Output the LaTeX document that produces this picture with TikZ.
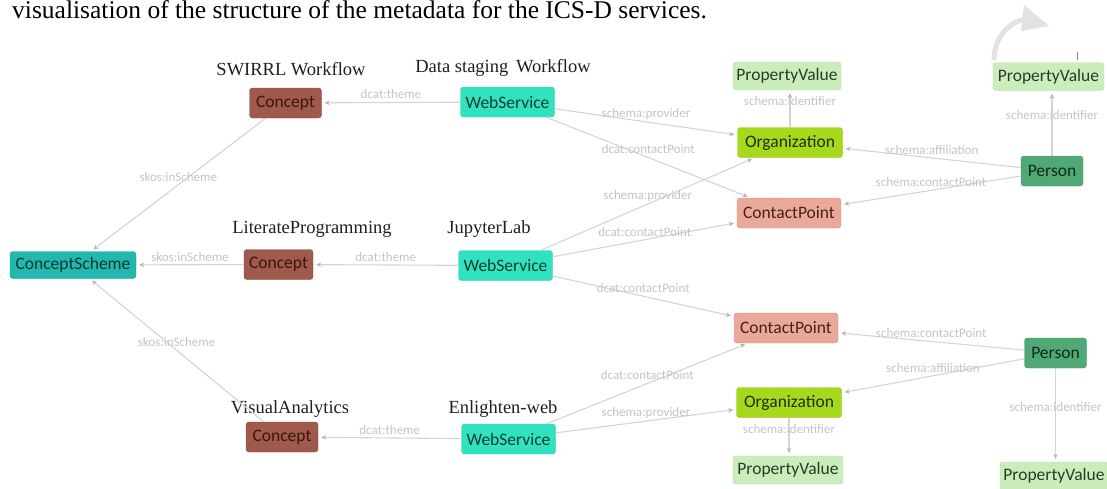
\documentclass[tikz,border=0pt]{standalone}
\usepackage{fontspec}
\setmainfont{Liberation Serif}
\newfontfamily\carl{Carlito}
\usetikzlibrary{arrows.meta}

\definecolor{fConcept}{HTML}{A05A4B}
\definecolor{tConcept}{HTML}{3A1610}
\definecolor{fWeb}{HTML}{30E3BE}
\definecolor{tWeb}{HTML}{0C3D33}
\definecolor{fScheme}{HTML}{22B8AD}
\definecolor{tScheme}{HTML}{0A3535}
\definecolor{fPV}{HTML}{CBEDBB}
\definecolor{tPV}{HTML}{2A3A2A}
\definecolor{fOrg}{HTML}{A6D91C}
\definecolor{tOrg}{HTML}{1E3008}
\definecolor{fCP}{HTML}{EAA899}
\definecolor{tCP}{HTML}{4A2018}
\definecolor{fPerson}{HTML}{51A877}
\definecolor{tPerson}{HTML}{0B2A17}
\definecolor{edgec}{HTML}{D4D4D4}
\definecolor{tipc}{HTML}{B4B4B4}
\definecolor{labc}{HTML}{C4C4C4}
\definecolor{iconc}{HTML}{E2E2E2}

\tikzset{
  box/.style={rounded corners=3pt, inner sep=0pt, font=\carl\fontsize{17.5}{19}\selectfont},
  concept/.style={box, fill=fConcept, draw=fConcept!85!black, text=tConcept, minimum width=72pt, minimum height=30pt},
  websvc/.style={box, fill=fWeb, draw=fWeb!92!black, text=tWeb, minimum width=94pt, minimum height=30pt},
  scheme/.style={box, fill=fScheme, draw=fScheme!90!black, text=tScheme, minimum width=126pt, minimum height=27pt},
  propval/.style={box, fill=fPV, draw=fPV!92!black, text=tPV, minimum width=108pt, minimum height=28pt},
  org/.style={box, fill=fOrg, draw=fOrg!90!black, text=tOrg, minimum width=105pt, minimum height=30pt},
  cpoint/.style={box, fill=fCP, draw=fCP!90!black, text=tCP, minimum width=104pt, minimum height=30pt},
  person/.style={box, fill=fPerson, draw=fPerson!88!black, text=tPerson, minimum width=62pt, minimum height=30pt},
  edge/.style={draw=edgec, line width=1.1pt, -{Stealth[length=5pt,width=4.5pt,color=tipc]}, shorten >=3pt},
  elab/.style={font=\carl\fontsize{13}{14}\selectfont, text=labc, inner sep=0pt, yshift=8pt},
  ttl/.style={font=\fontsize{18.5}{21}\selectfont, text=black!88, inner sep=0pt},
}

\begin{document}
\begin{tikzpicture}[x=1pt,y=-1pt]
\useasboundingbox (0,0) rectangle (1107,488);

% caption (at the page top)
\node[anchor=base west, inner sep=0pt, font=\fontsize{25.5}{28}\selectfont] (cap) at (12,18)
  {visualisation of the structure of the metadata for the ICS-D services.};

% rotate icon (top right)
\draw[iconc, line width=5pt] (994,60) .. controls (994,38) and (1008,22) .. (1028,18);
\fill[iconc] (1024,5) -- (1049,26) -- (1021,31) -- cycle;
\draw[black!45, line width=0.8pt] (1077,52) -- (1077,60);

% nodes
\node[scheme] (cs) at (73,265) {ConceptScheme};

\node[concept] (c1) at (285.5,103) {Concept};
\node[concept, minimum width=69pt] (c2) at (278.5,264.5) {Concept};
\node[concept] (c3) at (282,437) {Concept};

\node[websvc] (w1) at (507.5,102) {WebService};
\node[websvc] (w2) at (505.5,265.5) {WebService};
\node[websvc] (w3) at (508.5,439) {WebService};

\node[propval] (pv1) at (787,76) {PropertyValue};
\node[org] (o1) at (790,142.5) {Organization};
\node[cpoint] (cp1) at (789,213) {ContactPoint};
\node[propval, minimum width=111pt] (pv2) at (1048.5,76.5) {PropertyValue};
\node[person] (p1) at (1052,171) {Person};

\node[cpoint] (cp2) at (786,328) {ContactPoint};
\node[org] (o2) at (789,402.5) {Organization};
\node[propval, minimum width=110pt] (pv3) at (788,470) {PropertyValue};
\node[person] (p2) at (1055.5,353) {Person};
\node[propval] (pv4) at (1054,476) {PropertyValue};

% titles
\node[ttl] (t1) at (291,69) {SWIRRL Workflow};
\node[ttl] (t2) at (503,68) {Data staging\, Workflow};
\node[ttl] (t3) at (312,229) {LiterateProgramming};
\node[ttl] (t4) at (489,229) {JupyterLab};
\node[ttl] (t5) at (290,409) {VisualAnalytics};
\node[ttl] (t6) at (503,409) {Enlighten-web};

% edges
\draw[edge] (w1) -- node[elab] {dcat:theme} (c1);
\draw[edge] (w2) -- node[elab] {dcat:theme} (c2);
\draw[edge] (w3) -- node[elab] {dcat:theme} (c3);

\draw[edge] (c1) -- node[elab] {skos:inScheme} (cs);
\draw[edge] (c2) -- node[elab] {skos:inScheme} (cs);
\draw[edge] (c3) -- node[elab] {skos:inScheme} (cs);

\draw[edge] (w1) -- node[elab] {schema:provider} (o1);
\draw[edge] (w1) -- node[elab] {dcat:contactPoint} (cp1);
\draw[edge] (w2) -- node[elab] {schema:provider} (o1);
\draw[edge] (w2) -- node[elab] {dcat:contactPoint} (cp1);
\draw[edge] (w2) -- node[elab] {dcat:contactPoint} (cp2);
\draw[edge] (w3) -- node[elab] {dcat:contactPoint} (cp2);
\draw[edge] (w3) -- node[elab] {schema:provider} (o2);

\draw[edge] (o1.north) -- node[elab] {schema:identifier} (o1.north |- pv1.south);
\draw[edge] (p1) -- node[elab] {schema:affiliation} (o1);
\draw[edge] (p1) -- node[elab] {schema:contactPoint} (cp1);
\draw[edge] (p1.north) -- node[elab] {schema:identifier} (p1.north |- pv2.south);

\draw[edge] (p2) -- node[elab] {schema:contactPoint} (cp2);
\draw[edge] (p2) -- node[elab] {schema:affiliation} (o2);
\draw[edge] (o2.south) -- node[elab] {schema:identifier} (o2.south |- pv3.north);
\draw[edge] (p2.south) -- node[elab] {schema:identifier} (p2.south |- pv4.north);
\end{tikzpicture}
\end{document}
